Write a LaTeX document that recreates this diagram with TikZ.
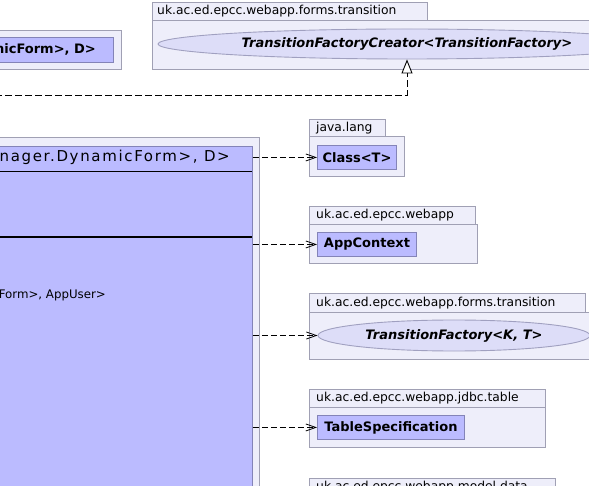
\documentclass[tikz,border=0pt]{standalone}
\usepackage{fontspec}
\setmainfont{DejaVu Sans}
\newfontfamily\spacedfont[LetterSpace=11]{DejaVu Sans}
\usetikzlibrary{arrows.meta,shapes.geometric}
\definecolor{pkgfill}{HTML}{EEEEFA}
\definecolor{pkgline}{HTML}{A0A0B4}
\definecolor{clsfill}{HTML}{BBBBFF}
\definecolor{clsline}{HTML}{8484B8}
\definecolor{ellfill}{HTML}{DDDDF8}
\definecolor{ellline}{HTML}{A0A0C0}
\tikzset{
  pkgbody/.style={draw=pkgline, fill=pkgfill, line width=0.9pt, anchor=north west, inner sep=0pt},
  pkgtab/.style={draw=pkgline, fill=pkgfill, line width=0.9pt, anchor=north west, inner sep=0pt},
  pkglabel/.style={anchor=west, inner sep=0pt, font=\fontsize{12.3}{14}\selectfont},
  clsbox/.style={draw=clsline, fill=clsfill, line width=0.9pt, anchor=north west, inner sep=0pt, font=\fontsize{13}{15}\selectfont\bfseries},
  ifbox/.style={ellipse, draw=ellline, fill=ellfill, line width=0.9pt, inner sep=0pt, font=\fontsize{13}{15}\selectfont\bfseries\itshape},
  dep/.style={draw=black, line width=0.9pt, dash pattern=on 6pt off 3pt, -{Straight Barb[length=10pt,width=7pt,line width=0.8pt]}},
  realize/.style={draw=black, line width=0.9pt, dash pattern=on 7pt off 3pt, -{Triangle[open,length=14pt,width=11pt,fill=white,line width=0.9pt]}},
}
\begin{document}
\begin{tikzpicture}[x=1pt,y=-1pt]
\useasboundingbox (0,0) rectangle (589,486);
\clip (0,0) rectangle (589,486);
\fill[white] (0,0) rectangle (589,486);

% top-left package
\node[pkgbody, minimum width=131pt, minimum height=39pt] (tlpkg) at (-10,30) {};
\node[clsbox, minimum width=123pt, minimum height=25pt] (tlcls) at (-10,37) {};
\node[anchor=east, inner sep=0pt, font=\fontsize{13}{15}\selectfont\bfseries] (tltext) at (96,49.5) {micForm>, D>};

% top-right package
\node[pkgtab, minimum width=275pt, minimum height=18pt] (trtab) at (152,2) {};
\node[pkglabel, xshift=5pt] (trlabel) at (trtab.west) {uk.ac.ed.epcc.webapp.forms.transition};
\node[pkgbody, minimum width=460pt, minimum height=49pt] (trpkg) at (152,20) {};
\node[ifbox, minimum width=498pt, minimum height=30pt] (tfc) at (407,44) {TransitionFactoryCreator<TransitionFactory>};

% big package and class
\node[pkgbody, minimum width=269pt, minimum height=360pt] (bigpkg) at (-10,137) {};
\node[clsbox, minimum width=262pt, minimum height=350pt] (big) at (-10,146) {};
\draw[black, line width=0.9pt] (-10,171) -- (252,171);
\draw[black, line width=1.6pt] (-10,237) -- (252,237);
\node[anchor=east, inner sep=0pt, font=\fontsize{15}{17}\spacedfont] (bighead) at (230,157) {nager.DynamicForm>, D>};
\node[anchor=east, inner sep=0pt, font=\fontsize{11.8}{13}\selectfont] (bigop) at (106,295) {Form>, AppUser>};

% realization
\coordinate (inhsrc) at (-5,95);
\draw[realize] (inhsrc) -| (tfc.south);

% java.lang
\node[pkgtab, minimum width=76pt, minimum height=17pt] (jltab) at (309,119) {};
\node[pkglabel, xshift=7pt] (jllabel) at (jltab.west) {java.lang};
\node[pkgbody, minimum width=95pt, minimum height=40pt] (jlpkg) at (309,136) {};
\node[clsbox, minimum width=79pt, minimum height=24pt] (cls) at (317,145) {Class<T>};

% webapp
\node[pkgtab, minimum width=166pt, minimum height=18pt] (watab) at (309,206) {};
\node[pkglabel, xshift=7pt] (walabel) at (watab.west) {uk.ac.ed.epcc.webapp};
\node[pkgbody, minimum width=168pt, minimum height=39pt] (wapkg) at (309,224) {};
\node[clsbox, minimum width=99pt, minimum height=24pt] (appctx) at (317,232) {AppContext};

% forms.transition
\node[pkgtab, minimum width=276pt, minimum height=19pt] (fttab) at (309,293) {};
\node[pkglabel, xshift=7pt] (ftlabel) at (fttab.west) {uk.ac.ed.epcc.webapp.forms.transition};
\node[pkgbody, minimum width=300pt, minimum height=47pt] (ftpkg) at (309,312) {};
\node[ifbox, minimum width=272pt, minimum height=31pt] (tf) at (454,335.5) {TransitionFactory<K, T>};

% jdbc.table
\node[pkgtab, minimum width=236pt, minimum height=18pt] (jttab) at (309,389) {};
\node[pkglabel, xshift=7pt] (jtlabel) at (jttab.west) {uk.ac.ed.epcc.webapp.jdbc.table};
\node[pkgbody, minimum width=236pt, minimum height=40pt] (jtpkg) at (309,407) {};
\node[clsbox, minimum width=147pt, minimum height=24pt] (tspec) at (317,415) {TableSpecification};

% model.data
\node[pkgtab, minimum width=246pt, minimum height=18pt] (mdtab) at (309,478) {};
\node[pkglabel, xshift=7pt] (mdlabel) at (mdtab.west) {uk.ac.ed.epcc.webapp.model.data};

% dependencies
\draw[dep] (big.east |- cls.west) -- (cls.west);
\draw[dep] (big.east |- appctx.west) -- (appctx.west);
\draw[dep] (big.east |- tf.west) -- (tf.west);
\draw[dep] (big.east |- tspec.west) -- (tspec.west);
\end{tikzpicture}
\end{document}
